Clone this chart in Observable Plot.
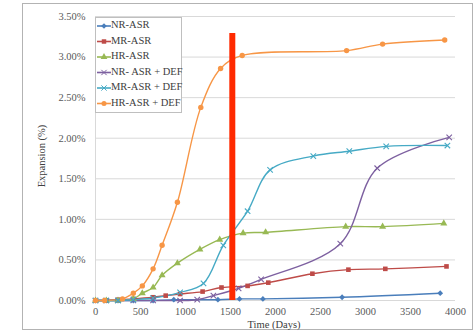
<!DOCTYPE html>
<html>
<head>
<meta charset="utf-8">
<script src="https://cdn.jsdelivr.net/npm/d3@7"></script>
<script src="https://cdn.jsdelivr.net/npm/@observablehq/plot@0.6"></script>
<style>
  html, body { margin: 0; padding: 0; background: #fff; }
  #chart { position: relative; width: 474px; height: 332px; }
  svg { display: block; }
</style>
</head>
<body>
<div id="chart"></div>
<script>
// ---- data (days, expansion %) ----
const seriesNames = ["NR-ASR", "MR-ASR", "HR-ASR", "NR- ASR + DEF", "MR-ASR + DEF", "HR-ASR + DEF"];
const seriesColors = ["#4a7ebb", "#be4b48", "#98b954", "#7d60a0", "#46aac5", "#f79646"];
const seriesSymbols = ["diamond2", "square", "triangle", "times", "times", "circle"];

const nrDays = [0, 120, 250, 420, 640, 870, 1360, 1600, 1860, 2740, 3830];
const nrVals = [0, 0, 0, 0, 0, 0.01, 0.01, 0.02, 0.02, 0.04, 0.09];

const mrDays = [0, 120, 250, 420, 640, 780, 940, 1190, 1400, 1690, 1920, 2410, 2810, 3220, 3900];
const mrVals = [0, 0, 0.01, 0.02, 0.04, 0.06, 0.08, 0.11, 0.16, 0.18, 0.22, 0.33, 0.38, 0.39, 0.42];

const hrDays = [0, 120, 250, 420, 520, 640, 740, 910, 1160, 1380, 1640, 1890, 2780, 3190, 3870];
const hrVals = [0, 0, 0, 0.02, 0.09, 0.16, 0.31, 0.46, 0.63, 0.75, 0.83, 0.84, 0.91, 0.91, 0.95];

const nrDefDays = [0, 120, 250, 420, 640, 940, 1130, 1310, 1590, 1840, 2720, 3130, 3930];
const nrDefVals = [0, 0, 0, 0, 0, 0, 0.01, 0.06, 0.15, 0.26, 0.70, 1.63, 2.01];

const mrDefDays = [0, 120, 250, 420, 640, 940, 1200, 1420, 1690, 1940, 2420, 2820, 3230, 3910];
const mrDefVals = [0, 0, 0, 0.01, 0.03, 0.10, 0.21, 0.68, 1.10, 1.61, 1.78, 1.84, 1.90, 1.91];

const hrDefDays = [0, 100, 300, 420, 520, 640, 740, 910, 1170, 1390, 1630, 2790, 3190, 3880];
const hrDefVals = [0, 0, 0.02, 0.09, 0.18, 0.39, 0.68, 1.21, 2.38, 2.86, 3.02, 3.08, 3.16, 3.21];

const markerDay = [1520];     // red vertical line
const markerTop = [3.29];

const xTicks = [0, 500, 1000, 1500, 2000, 2500, 3000, 3500, 4000];
const yTicks = [0, 0.5, 1.0, 1.5, 2.0, 2.5, 3.0, 3.5];

// ---- build table ----
const allDays = [nrDays, mrDays, hrDays, nrDefDays, mrDefDays, hrDefDays];
const allVals = [nrVals, mrVals, hrVals, nrDefVals, mrDefVals, hrDefVals];
const rows = [];
allDays.forEach((ds, i) => ds.forEach((d, j) => rows.push({series: seriesNames[i], day: d, val: allVals[i][j]})));

const font = "'Liberation Serif', 'Times New Roman', serif";
const colorScale = {domain: seriesNames, range: seriesColors};

const marks = [
  Plot.ruleY(yTicks, {stroke: "#d9d9d9", strokeWidth: 1}),
  Plot.ruleX([0], {stroke: "#d9d9d9", strokeWidth: 1}),
  Plot.line(rows, {x: "day", y: "val", z: "series", stroke: "series", strokeWidth: 1.4, curve: "catmull-rom"})
];
seriesNames.forEach((name, i) => {
  const data = rows.filter(r => r.series === name);
  const sym = seriesSymbols[i];
  if (sym === "times") {
    marks.push(Plot.dot(data, {x: "day", y: "val", symbol: () => sym, r: 2.6, stroke: seriesColors[i], fill: "none", strokeWidth: 1.1}));
  } else {
    marks.push(Plot.dot(data, {x: "day", y: "val", symbol: () => sym, r: sym === "circle" ? 2.7 : 2.6, fill: seriesColors[i], stroke: "none"}));
  }
});
marks.push(Plot.ruleX(markerDay.map((d, i) => ({day: d, top: markerTop[i]})), {x: "day", y1: 0, y2: "top", stroke: "#ff2a00", strokeWidth: 6}));

const chart = Plot.plot({
  width: 474,
  height: 332,
  marginLeft: 95,
  marginRight: 19,
  marginTop: 16,
  marginBottom: 32,
  style: {fontFamily: font, fontSize: "10.5px", color: "#595959", background: "#fff"},
  x: {domain: [0, 4000], ticks: xTicks, tickSize: 0, tickPadding: 7, label: null, tickFormat: d => String(d)},
  y: {domain: [0, 3.5], ticks: yTicks, tickSize: 0, tickPadding: 10, label: null, tickFormat: d => d.toFixed(2) + "%"},
  color: colorScale,
  symbol: {domain: ["diamond2", "square", "triangle", "times", "circle"], range: ["diamond2", "square", "triangle", "times", "circle"]},
  marks
});

document.getElementById("chart").appendChild(chart);

// ---- decorations: frame, axis titles, legend ----
const svg = d3.select(chart);
svg.insert("rect", ":first-child")
  .attr("x", 22.5).attr("y", 3.5).attr("width", 450).attr("height", 326)
  .attr("fill", "none").attr("stroke", "#b3b3b3").attr("stroke-width", 1);

svg.append("text")
  .attr("transform", "translate(43,156) rotate(-90)")
  .attr("text-anchor", "middle").attr("dominant-baseline", "middle")
  .style("font-family", font).style("font-size", "10.5px").attr("fill", "#404040")
  .text("Expansion (%)");

svg.append("text")
  .attr("x", 274).attr("y", 325.5)
  .attr("text-anchor", "middle").attr("dominant-baseline", "middle")
  .style("font-family", font).style("font-size", "10.5px").attr("fill", "#404040")
  .text("Time (Days)");

const lg = svg.append("g");
lg.append("rect").attr("x", 95.5).attr("y", 17.5).attr("width", 86).attr("height", 95)
  .attr("fill", "#fff").attr("stroke", "#bfbfbf");
seriesNames.forEach((name, i) => {
  const y = 26 + i * 15.5;
  const g = lg.append("g");
  g.append("line").attr("x1", 97).attr("x2", 111).attr("y1", y).attr("y2", y)
    .attr("stroke", seriesColors[i]).attr("stroke-width", 1.6);
  const sym = seriesSymbols[i];
  const symType = {diamond2: d3.symbolDiamond2, square: d3.symbolSquare, triangle: d3.symbolTriangle, times: d3.symbolTimes, circle: d3.symbolCircle}[sym];
  const p = g.append("path").attr("d", d3.symbol(symType, 20)()).attr("transform", `translate(104,${y})`);
  if (sym === "times") p.attr("fill", "none").attr("stroke", seriesColors[i]).attr("stroke-width", 1);
  else p.attr("fill", seriesColors[i]);
  g.append("text").attr("x", 111).attr("y", y).attr("dominant-baseline", "middle")
    .attr("text-anchor", "start")
    .style("font-family", font).style("font-size", "10.5px").attr("fill", "#404040")
    .text(name);
});
</script>
</body>
</html>
